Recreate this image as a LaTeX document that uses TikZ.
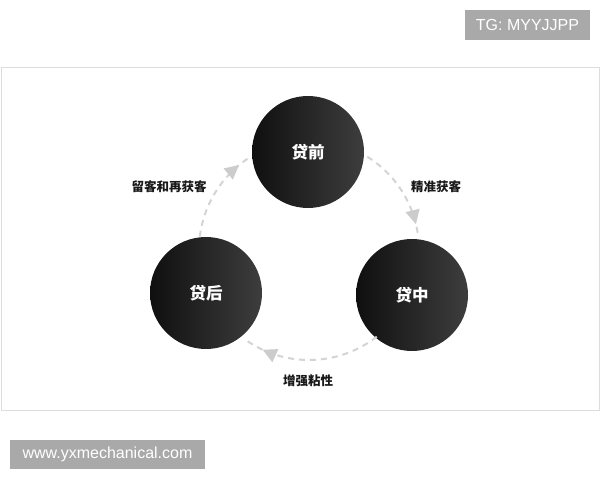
\documentclass[tikz,border=0pt]{standalone}
\usepackage{fontspec}
\setmainfont{Liberation Sans}
\newfontfamily\cjk{Noto Sans CJK SC}
\usetikzlibrary{arrows.meta,decorations.markings}
\definecolor{wm}{HTML}{A9A9A9}
\definecolor{framec}{HTML}{DDDDDD}
\definecolor{dashc}{HTML}{D4D4D4}
\definecolor{tipc}{HTML}{CCCCCC}
\tikzset{
  stage/.style={circle,minimum size=112pt,inner sep=0pt,left color=black!94,right color=black!76,
    text=white,font=\cjk\bfseries\fontsize{16.5pt}{16.5pt}\selectfont},
  lab/.style={font=\cjk\bfseries\fontsize{12.5pt}{12.5pt}\selectfont,text=black!90,inner sep=0pt},
  wmbox/.style={fill=wm,text=white,inner sep=0pt,font=\fontsize{16pt}{16pt}\selectfont},
  flow/.style={draw=dashc,line width=2pt,dash pattern=on 6pt off 5pt},
  tipat/.style={postaction={decorate},decoration={markings,
     mark=at position #1 with {\arrow[tipc]{Triangle[length=14pt,width=14pt]}}}}
}
\begin{document}
\begin{tikzpicture}[x=1pt,y=1pt]
\useasboundingbox (0,0) rectangle (600,480);
\fill[white] (0,0) rectangle (600,480);
\draw[framec,line width=1pt] (1,70) rectangle (599,412);
\node[wmbox,minimum width=125pt,minimum height=30pt] (tg) at (527.5,455) {TG: MYYJJPP};
\node[wmbox,minimum width=195pt,minimum height=29pt] (www) at (107.5,25.5) {www.yxmechanical.com};
\coordinate (o) at (309,230);
\node[stage] (pre) at (308,328) {贷前};
\node[stage] (post) at (206,187) {贷后};
\node[stage] (mid) at (412,185) {贷中};
\coordinate (a1s) at ([shift={(173:110)}]o);
\coordinate (a2s) at ([shift={(58:110)}]o);
\coordinate (a3s) at ([shift={(-52:110)}]o);
\draw[flow,tipat=0.87] (a1s) arc[start angle=173,end angle=123,radius=110];
\draw[flow,tipat=0.87] (a2s) arc[start angle=58,end angle=7,radius=110];
\draw[flow,tipat=0.85] (a3s) arc[start angle=-52,end angle=-126,radius=110];
\node[lab] (l1) at (169,293) {留客和再获客};
\node[lab] (l2) at (436,293) {精准获客};
\node[lab] (l3) at (308,99) {增强粘性};
\end{tikzpicture}
\end{document}
